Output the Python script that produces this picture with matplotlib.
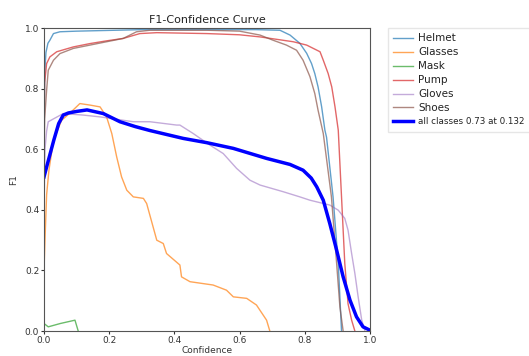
import matplotlib
matplotlib.use("Agg")
import matplotlib.pyplot as plt

helmet_x = [0.0, 0.002, 0.006, 0.012, 0.018, 0.029, 0.049, 0.1, 0.3, 0.5, 0.65, 0.724, 0.755, 0.785, 0.806, 0.821, 0.831, 0.841, 0.852, 0.862, 0.867, 0.887, 0.903, 0.913]
helmet_y = [0.60, 0.85, 0.92, 0.95, 0.96, 0.982, 0.988, 0.99, 0.995, 0.995, 0.995, 0.993, 0.977, 0.95, 0.917, 0.883, 0.85, 0.806, 0.74, 0.663, 0.64, 0.443, 0.223, 0.0]

glasses_x = [0.0, 0.003, 0.008, 0.015, 0.029, 0.054, 0.08, 0.11, 0.141, 0.172, 0.192, 0.208, 0.223, 0.238, 0.254, 0.274, 0.305, 0.315, 0.346, 0.366, 0.376, 0.417, 0.422, 0.448, 0.519, 0.56, 0.581, 0.622, 0.652, 0.683, 0.693]
glasses_y = [0.20, 0.30, 0.45, 0.53, 0.63, 0.696, 0.72, 0.751, 0.746, 0.74, 0.707, 0.652, 0.575, 0.509, 0.465, 0.443, 0.438, 0.421, 0.30, 0.289, 0.256, 0.218, 0.179, 0.163, 0.152, 0.135, 0.113, 0.108, 0.086, 0.036, 0.0]

mask_x = [0.0, 0.013, 0.05, 0.095, 0.105]
mask_y = [0.025, 0.014, 0.025, 0.036, 0.0]

pump_x = [0.0, 0.002, 0.008, 0.018, 0.039, 0.09, 0.141, 0.192, 0.243, 0.294, 0.346, 0.5, 0.6, 0.663, 0.765, 0.806, 0.847, 0.857, 0.872, 0.883, 0.893, 0.903, 0.913, 0.923, 0.933, 0.944, 0.954]
pump_y = [0.60, 0.82, 0.883, 0.905, 0.922, 0.938, 0.949, 0.958, 0.966, 0.982, 0.985, 0.982, 0.978, 0.971, 0.955, 0.944, 0.922, 0.894, 0.85, 0.806, 0.74, 0.663, 0.443, 0.223, 0.09, 0.036, 0.0]

gloves_x = [0.0, 0.003, 0.008, 0.013, 0.059, 0.12, 0.172, 0.274, 0.325, 0.407, 0.417, 0.458, 0.509, 0.55, 0.591, 0.632, 0.663, 0.734, 0.785, 0.816, 0.877, 0.903, 0.923, 0.933, 0.944, 0.954, 0.964, 0.975, 0.985]
gloves_y = [0.40, 0.60, 0.66, 0.691, 0.718, 0.713, 0.707, 0.691, 0.691, 0.68, 0.68, 0.652, 0.614, 0.586, 0.537, 0.498, 0.482, 0.46, 0.443, 0.432, 0.416, 0.399, 0.372, 0.333, 0.256, 0.19, 0.113, 0.036, 0.0]

shoes_x = [0.0, 0.002, 0.008, 0.013, 0.029, 0.049, 0.09, 0.141, 0.192, 0.243, 0.284, 0.325, 0.5, 0.6, 0.663, 0.703, 0.744, 0.775, 0.795, 0.816, 0.831, 0.841, 0.857, 0.882, 0.898, 0.908, 0.918]
shoes_y = [0.55, 0.70, 0.795, 0.861, 0.894, 0.916, 0.933, 0.944, 0.955, 0.966, 0.988, 0.993, 0.993, 0.99, 0.977, 0.96, 0.944, 0.927, 0.894, 0.84, 0.784, 0.729, 0.652, 0.443, 0.223, 0.08, 0.0]

all_x = [0.0, 0.015, 0.03, 0.045, 0.059, 0.075, 0.1, 0.132, 0.182, 0.233, 0.28, 0.325, 0.427, 0.499, 0.581, 0.683, 0.755, 0.795, 0.82, 0.837, 0.857, 0.877, 0.898, 0.918, 0.939, 0.959, 0.979, 1.0]
all_y = [0.509, 0.57, 0.63, 0.685, 0.713, 0.72, 0.725, 0.73, 0.718, 0.691, 0.675, 0.662, 0.636, 0.622, 0.603, 0.570, 0.550, 0.531, 0.505, 0.476, 0.432, 0.355, 0.267, 0.179, 0.102, 0.047, 0.014, 0.003]

fig = plt.figure(figsize=(5.29, 3.56), dpi=100)
ax = fig.add_axes([0.0832, 0.070, 0.616, 0.851])
ax.plot(helmet_x, helmet_y, lw=1, color="#1f77b4", alpha=0.7, label="Helmet")
ax.plot(glasses_x, glasses_y, lw=1, color="#ff7f0e", alpha=0.7, label="Glasses")
ax.plot(mask_x, mask_y, lw=1, color="#2ca02c", alpha=0.7, label="Mask")
ax.plot(pump_x, pump_y, lw=1, color="#d62728", alpha=0.7, label="Pump")
ax.plot(gloves_x, gloves_y, lw=1, color="#9467bd", alpha=0.55, label="Gloves")
ax.plot(shoes_x, shoes_y, lw=1, color="#8c564b", alpha=0.7, label="Shoes")
ax.plot(all_x, all_y, lw=2.5, color="blue", label="all classes 0.73 at 0.132")
ax.set_xlim(0, 1)
ax.set_ylim(0, 1)
ax.set_xticks([0, 0.2, 0.4, 0.6, 0.8, 1.0])
ax.set_yticks([0, 0.2, 0.4, 0.6, 0.8, 1.0])
for s in ax.spines.values():
    s.set_color("#555555")
ax.tick_params(labelsize=6.5, length=2, pad=1.5, colors="#333333")
ax.set_xlabel("Confidence", fontsize=6.5, labelpad=1, color="#333333")
ax.set_ylabel("F1", fontsize=6.5, labelpad=5, color="#333333")
ax.set_title("F1-Confidence Curve", fontsize=8, pad=4, color="#222222")
leg = ax.legend(loc="upper left", bbox_to_anchor=(1.055, 1.0), fontsize=7.5, frameon=True,
                handlelength=1.9, handletextpad=0.5, borderaxespad=0, borderpad=0.5,
                labelspacing=0.38, fancybox=False, edgecolor="#e0e0e0")
for t in leg.get_texts():
    t.set_color("#222222")
leg.get_texts()[-1].set_fontsize(6.3)
fig.savefig("out.png", dpi=100)
